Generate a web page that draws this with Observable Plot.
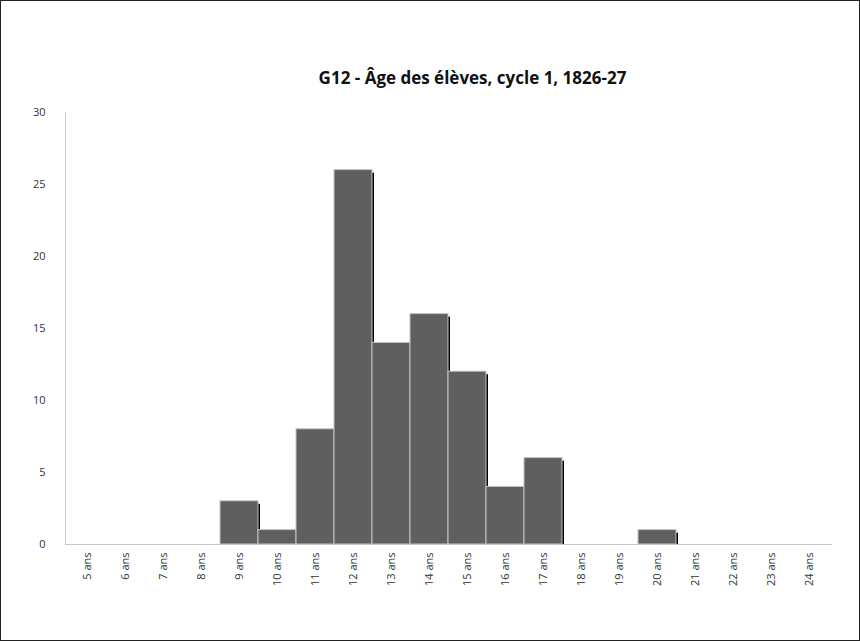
<!DOCTYPE html>
<html>
<head>
<meta charset="utf-8">
<script src="https://cdn.jsdelivr.net/npm/d3@7"></script>
<script src="https://cdn.jsdelivr.net/npm/@observablehq/plot@0.6"></script>
<style>
  html, body { margin: 0; padding: 0; background: #fff; }
  #chart svg { display: block; outline: 1px solid #222; outline-offset: -1px; }
</style>
</head>
<body>
<div id="chart"></div>
<script>
const ages = ["5 ans","6 ans","7 ans","8 ans","9 ans","10 ans","11 ans","12 ans","13 ans","14 ans",
              "15 ans","16 ans","17 ans","18 ans","19 ans","20 ans","21 ans","22 ans","23 ans","24 ans"];
const counts = [0,0,0,0,3,1,8,26,14,16,12,4,6,0,0,1,0,0,0,0];
const yTicks = [0,5,10,15,20,25,30];
const title = "G12 - Âge des élèves, cycle 1, 1826-27";

const data = ages.map((a, i) => ({age: a, n: counts[i]}));
const nonzero = data.filter(d => d.n > 0);

const chart = Plot.plot({
  width: 860,
  height: 641,
  marginLeft: 65,
  marginRight: 29,
  marginTop: 112,
  marginBottom: 97,
  style: {fontFamily: "'Open Sans', sans-serif", fontSize: "11px", color: "#333", background: "#fff"},
  x: {domain: ages, padding: 0, label: null},
  y: {domain: [0, 30], label: null},
  marks: [
    Plot.axisY({ticks: yTicks, tickSize: 0, tickPadding: 20, label: null, fill: "#333", fontSize: 11}),
    Plot.axisX({tickRotate: -90, tickSize: 0, tickPadding: 8, label: null, fill: "#333", fontSize: 11}),
    Plot.barY(nonzero, {x: "age", y: "n", fill: "#000", dx: 2, dy: 3, clip: true}),
    Plot.barY(nonzero, {x: "age", y: "n", fill: "#5f5f5f", stroke: "#c4c4c4", strokeWidth: 1}),
    Plot.frame({anchor: "left", stroke: "#c8c8c8"}),
    Plot.frame({anchor: "bottom", stroke: "#c8c8c8"}),
    Plot.text([title], {frameAnchor: "top", dx: 24, dy: -41, fontSize: 17, fontWeight: "bold", fill: "#111", fontFamily: "'Open Sans', sans-serif"})
  ]
});
document.getElementById("chart").appendChild(chart);
</script>
</body>
</html>
